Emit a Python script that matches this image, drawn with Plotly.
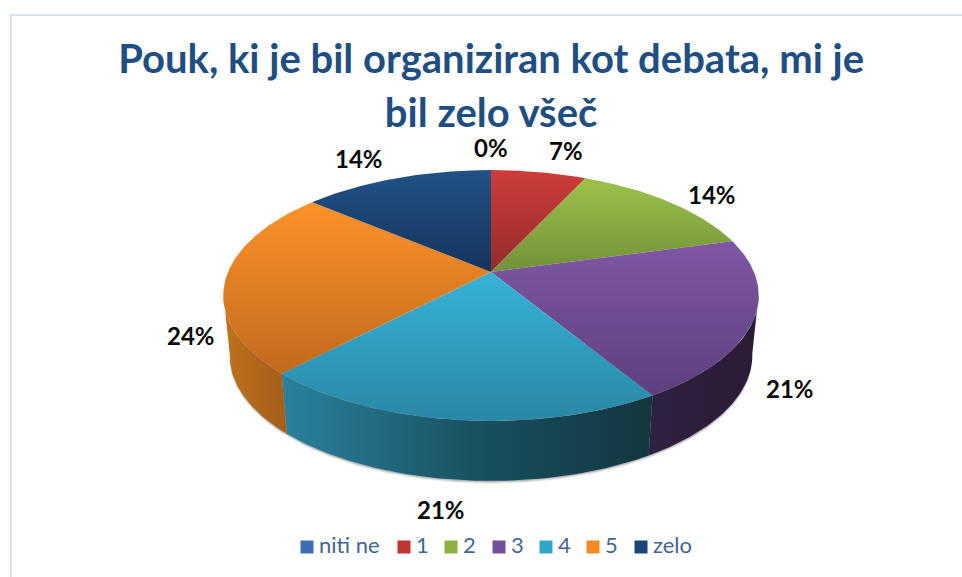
import numpy as np
import plotly.graph_objects as go

# ---- data ----
categories = ["niti ne", "1", "2", "3", "4", "5", "zelo"]
counts = [0, 2, 4, 6, 6, 7, 4]
title_lines = ["Pouk, ki je bil organiziran kot debata, mi je", "bil zelo všeč"]

# ---- styling ----
top_light = ["#4F81BD", "#CE3D3A", "#9CC24A", "#7F58A4", "#36B2D8", "#FC9229", "#215285"]
top_dark = ["#3B6496", "#922B29", "#72903A", "#5D3F7E", "#2A88A5", "#C2691D", "#16345D"]
wall_left = ["#3B6496", "#922B29", "#72903A", "#2F2141", "#2B829C", "#C0741F", "#16345D"]
wall_mid = ["#3B6496", "#922B29", "#72903A", "#2C1E3A", "#174F5E", "#B0661A", "#16345D"]
wall_right = ["#3B6496", "#922B29", "#72903A", "#2A1C35", "#133640", "#A65E17", "#16345D"]
swatch = ["#3A70B2", "#BE3532", "#8DB03F", "#70509A", "#2FA6C8", "#F28A25", "#1C4477"]
label_shift = [(0, -23), (27, -22), (42, -8), (36, 68), (-15, 90), (-35, 57), (-38, -20)]
legend_x = [307, 404, 451, 499, 546, 593, 641]
W, H = 962, 577
CX, CY, RX, RY, K = 491, 272, 263, 121, 0.1873
DEPTH, SHRINK = 60, 0.976
TITLE_PX, TITLE_SPACING_PX = 40, 54
LABEL_PX, LEGEND_PX = 24, 22


def rim(theta):
    w = 1 + K * np.cos(theta)
    return CX + RX * np.sin(theta) / w, CY - RY * np.cos(theta) / w


def base(theta):
    x, y = rim(theta)
    return CX + SHRINK * (x - CX), y + DEPTH


total = sum(counts)
edges = 2 * np.pi * np.cumsum([0] + counts) / total
fig = go.Figure()

# soft shadow under the base
all_t = np.linspace(np.radians(95), np.radians(265), 160)
for off, alpha in [(3, 0.06), (2, 0.10), (1, 0.16)]:
    bx, by = base(all_t)
    fig.add_trace(go.Scatter(x=bx, y=by + off, mode="lines", line_width=0, fill="toself",
                             fillcolor=f"rgba(0,0,0,{alpha})", hoverinfo="skip", showlegend=False))

# side walls (only the part facing the viewer)
front_a, front_b = np.radians(100), np.radians(260)
for i, name in enumerate(categories):
    a, b = max(edges[i], front_a), min(edges[i + 1], front_b)
    if b <= a:
        continue
    t = np.linspace(a, b, 80)
    tx, ty = rim(t)
    bx, by = base(t[::-1])
    xs = np.r_[tx, bx, tx[0]]
    ys = np.r_[ty, by, ty[0]]
    fig.add_trace(go.Scatter(
        x=xs, y=ys, mode="lines", line=dict(width=0), fill="toself", name=name,
        fillgradient=dict(type="horizontal", start=float(xs.min()), stop=float(xs.max()),
                          colorscale=[[0, wall_left[i]], [0.55, wall_mid[i]], [1, wall_right[i]]]),
        hoverinfo="skip", showlegend=False))

# top faces
for i, name in enumerate(categories):
    if counts[i] == 0:
        continue
    t = np.linspace(edges[i], edges[i + 1], 100)
    tx, ty = rim(t)
    xs = np.r_[CX, tx, CX]
    ys = np.r_[CY, ty, CY]
    fig.add_trace(go.Scatter(
        x=xs, y=ys, mode="lines", line=dict(width=0), fill="toself", name=name,
        fillgradient=dict(type="vertical", start=float(ys.min()), stop=float(ys.max()),
                          colorscale=[[0, top_light[i]], [1, top_dark[i]]]),
        hoverinfo="name", showlegend=False))

# data labels
annotations = []
for i, v in enumerate(counts):
    mx, my = rim((edges[i] + edges[i + 1]) / 2)
    annotations.append(dict(x=mx, y=my, xref="x", yref="y", xanchor="center", yanchor="middle",
                            xshift=label_shift[i][0], yshift=-label_shift[i][1],
                            text=f"{round(100 * v / total)}%", showarrow=False,
                            font=dict(family="Lato", size=LABEL_PX, color="#0a0a0a", weight="bold")))

# legend row
legend_y = [547] * len(categories)
fig.add_trace(go.Scatter(x=legend_x, y=legend_y, mode="markers",
                         marker=dict(symbol="square", size=13, color=swatch, line_width=0),
                         hoverinfo="skip", showlegend=False))
fig.add_trace(go.Scatter(x=[v + 12 for v in legend_x], y=legend_y, mode="text", text=categories,
                         textposition="middle right",
                         textfont=dict(family="Lato", size=LEGEND_PX, color="#44658F"),
                         hoverinfo="skip", showlegend=False))

spacing_font = TITLE_SPACING_PX / 1.3
title_html = "<br>".join(f'<span style="font-size:{TITLE_PX}px">{s}</span>' for s in title_lines)
fig.update_layout(
    width=W, height=H, autosize=False,
    margin=dict(l=0, r=0, t=0, b=0),
    paper_bgcolor="white", plot_bgcolor="white",
    xaxis=dict(range=[0, W], visible=False, fixedrange=True),
    yaxis=dict(range=[H, 0], visible=False, fixedrange=True),
    title=dict(text=title_html, x=0.5105, xanchor="center", y=1 - 73 / H, yanchor="top",
               font=dict(family="Lato", size=spacing_font, color="#1F4E82", weight="bold")),
    annotations=annotations,
    shapes=[dict(type="rect", xref="x", yref="y", x0=11, y0=15, x1=W + 20, y1=H + 20,
                 line=dict(color="#D6E4F4", width=2), layer="below")],
    showlegend=False,
)
fig.write_html("out.html", config=dict(displayModeBar=False),
               post_script="document.body.style.margin='0';")
